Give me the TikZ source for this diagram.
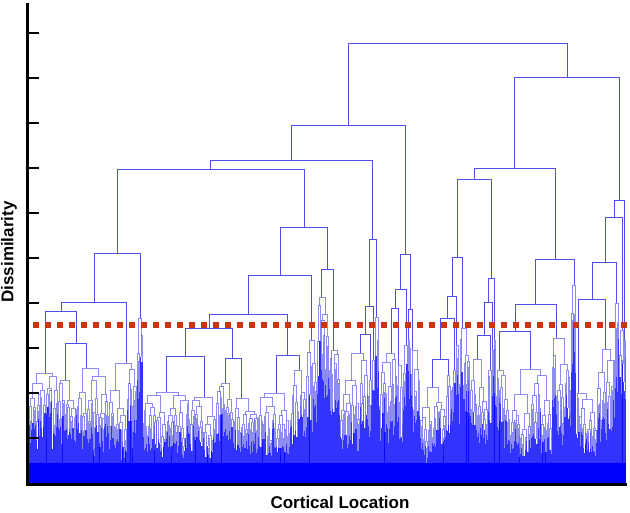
\documentclass[tikz,border=0pt]{standalone}
\usepackage{fontspec}
\setmainfont{Liberation Sans}
\definecolor{dline}{RGB}{80,80,232}
\definecolor{dred}{RGB}{205,50,15}
\definecolor{dfill}{RGB}{0,0,255}
\tikzset{
  tree/.style={draw=dline, line width=0.9pt},
  lowline/.style={draw=dline, line width=0.6pt, draw opacity=0.65},
  leaffill/.style={fill=dfill, fill opacity=0.8},
  redline/.style={draw=dred, line width=6pt, dash pattern=on 6pt off 6pt},
  axisline/.style={draw=black, line width=3pt},
  tickline/.style={draw=black, line width=1.5pt},
  lab/.style={font=\fontsize{17}{20}\selectfont\bfseries, inner sep=0pt}
}
% explicit bracket: xl, xr, y, yl, yr
\newcommand\br[5]{\draw[tree] (#1,#4) -- (#1,#3) -- (#2,#3) -- (#2,#5);}
% procedural subtree: a, b, y, x (split at x)
\newcommand\subtr[4]{%
  \begingroup
  \pgfmathtruncatemacro\stp{(((#2)-(#1))<1.6 || (#3)>455) ? 1 : 0}%
  \ifnum\stp=1
    \pgfmathsetmacro\yf{max(#3+(483-#3)*0.35*rnd,#3)}%
    \draw[lowline] (#4,#3) -- (#4,\yf);
    \fill[leaffill] (#1,\yf) rectangle (#2,483);
  \else
    \pgfmathsetmacro\xl{#1+(#4-#1)*(0.3+0.4*rnd)}%
    \pgfmathsetmacro\xr{#4+(#2-#4)*(0.3+0.4*rnd)}%
    \pgfmathsetmacro\yl{#3+(483-#3)*(0.03+0.2*rnd)}%
    \pgfmathsetmacro\yr{#3+(483-#3)*(0.03+0.2*rnd)}%
    \draw[lowline] (\xl,\yl) -- (\xl,#3) -- (\xr,#3) -- (\xr,\yr);
    \edef\nxt{\noexpand\subtr{#1}{#4}{\yl}{\xl}\noexpand\subtr{#4}{#2}{\yr}{\xr}}%
    \nxt
  \fi
  \endgroup}
\begin{document}
\begin{tikzpicture}[x=1pt,y=-1pt]
\useasboundingbox (0,0) rectangle (630,513);
\pgfmathsetseed{4242}
% solid base
\fill[dfill] (28,463) rectangle (626,483);
% procedural lower levels
\foreach \la/\lb/\lx/\ly in {
29/58/45.7/373, 58/76/65.7/380, 76/108/86.7/368, 108/137/126.7/363,
137/143/140/318, 143/190/166.5/392, 190/216/204/397, 216/234/225.7/383,
234/258/241/398, 258/290/276/393, 290/306/299/370, 306/317/311.7/340,
317/329/321/297, 329/340/333.3/350, 340/368/360/353, 368/372/370.7/380,
372/375/373.5/360, 375/379/376.5/317, 379/397/391.7/353, 397/403/398.7/365,
403/407.5/406/345, 407.5/411/408.7/340, 411/420/412.7/350, 420/446/432.7/387,
446/451/448.3/375, 451/455.5/454/370, 455.5/460/456.7/345, 460/470/462.7/328,
470/488/477.3/359, 488/491.5/490/370, 491.5/493.5/492.7/350, 493.5/496/494.3/340,
496/510/499.3/370, 510/552/530.7/369, 552/571/556/338, 571/576/574.3/285,
576/597/578.3/393, 597/614/605.7/349, 614/619/616.7/303, 619/623.3/622.3/330,
623.3/626/624.3/340}{\subtr{\la}{\lb}{\ly}{\lx}}
% upper tree
\br{348}{567}{43}{125}{77}
\br{514}{619}{77}{168}{200}
\br{474.3}{555}{168}{179}{259}
\br{457.5}{491}{179}{257}{278}
\br{452.7}{462.7}{257}{296}{328}
\br{447.3}{456.7}{296}{318}{345}
\br{440.7}{454}{318}{359}{370}
\br{432.7}{448.3}{359}{387}{375}
\br{488.3}{494.3}{278}{302}{340}
\br{484}{492.7}{302}{335}{350}
\br{477.3}{490}{335}{359}{370}
\br{535.7}{574.3}{259}{304}{285}
\br{515}{556}{304}{331}{338}
\br{499.3}{530.7}{331}{370}{369}
\br{614}{624.3}{200}{217}{340}
\br{605}{622.3}{217}{262}{330}
\br{592.7}{616.7}{262}{299}{303}
\br{578.3}{605.7}{299}{393}{349}
\br{291}{405.5}{125}{160}{254}
\br{210}{372.7}{160}{169}{239}
\br{117}{304}{169}{253}{227}
\br{94}{140}{253}{302}{318}
\br{61}{126.7}{302}{311}{363}
\br{45.7}{76}{311}{373}{343}
\br{65.7}{86.7}{343}{380}{368}
\br{280}{327}{227}{275}{269}
\br{248.7}{311.7}{275}{314}{340}
\br{209.3}{287.3}{314}{328}{355}
\br{185.5}{232.7}{328}{356}{358}
\br{166.5}{204}{356}{392}{397}
\br{225.7}{241}{358}{383}{398}
\br{276}{299}{355}{393}{370}
\br{321}{333.3}{269}{297}{350}
\br{369.3}{376.5}{239}{306}{317}
\br{365}{373.5}{306}{334}{360}
\br{360}{370.7}{334}{353}{380}
\br{400.7}{410.7}{254}{289}{309}
\br{395.3}{406}{289}{308}{345}
\br{391.7}{398.7}{308}{353}{365}
\br{408.7}{412.7}{309}{340}{350}
% threshold line
\coordinate (redL) at (33,325);
\coordinate (redR) at (627,325);
\draw[redline] (redL) -- (redR);
% axes
\coordinate (atop) at (27,3);
\coordinate (aorig) at (27,484);
\coordinate (aright) at (627,484);
\draw[axisline] (atop) -- (aorig) -- (aright);
\foreach \t in {33,78,123,168,213,258,303,348,393,438}
  \draw[tickline] (27,\t) -- (39,\t);
% labels
\node[lab, rotate=90] (ylab) at (9,252) {Dissimilarity};
\node[lab] (xlab) at (340,502) {Cortical Location};
\end{tikzpicture}
\end{document}
